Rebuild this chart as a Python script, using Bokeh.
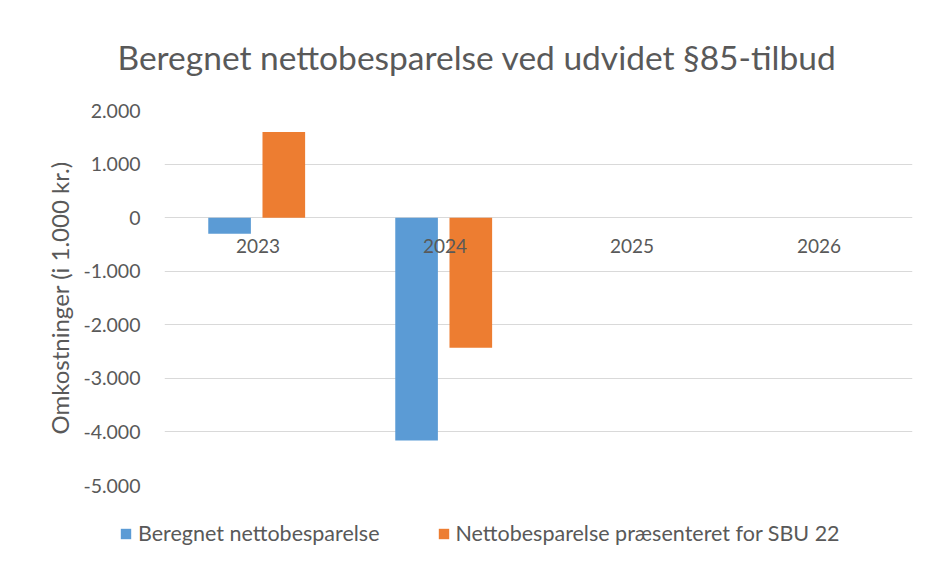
from bokeh.plotting import figure
from bokeh.models import Range1d, FactorRange, Legend, LegendItem, ColumnDataSource, FixedTicker
from bokeh.transform import dodge
from bokeh.core.properties import value
from bokeh.embed import file_html
from bokeh.resources import INLINE

# ---- data ----
years = ["2023", "2024", "2025", "2026"]
beregnet = [-300, -4160, 0, 0]
sbu22 = [1600, -2430, 0, 0]
series_names = ["Beregnet nettobesparelse", "Nettobesparelse præsenteret for SBU 22"]
y_ticks = [2000, 1000, 0, -1000, -2000, -3000, -4000, -5000]
y_tick_labels = ["2.000", "1.000", "0", "-1.000", "-2.000", "-3.000", "-4.000", "-5.000"]
title_text = "Beregnet nettobesparelse ved udvidet §85-tilbud"
y_title = "Omkostninger (i 1.000 kr.)"

FONT = "Lato"
TXT = "#595959"
BLUE = "#5B9BD5"
ORANGE = "#ED7D31"
GRID = "#D9D9D9"

src = ColumnDataSource(dict(year=years, a=beregnet, b=sbu22, zero=[0] * len(years)))
xr = FactorRange(*years)
yr = Range1d(-5000, 2000)

p = figure(x_range=xr, y_range=yr,
           width=925, height=510, output_backend="svg", toolbar_location=None,
           min_border_left=164, min_border_right=13, min_border_top=110, min_border_bottom=25)
p.outline_line_color = None
p.background_fill_color = "white"
p.border_fill_color = "white"

p.title.text = title_text
p.title.align = "left"
p.title.offset = -47
p.title.standoff = 67
p.title.text_font = FONT
p.title.text_font_size = "33.5px"
p.title.text_font_style = "normal"
p.title.text_color = TXT

r1 = p.vbar(x=dodge("year", -0.152, range=xr), top="a", width=0.228, source=src,
            fill_color=BLUE, line_color=None)
r2 = p.vbar(x=dodge("year", 0.138, range=xr), top="b", width=0.228, source=src,
            fill_color=ORANGE, line_color=None)

# category labels just below the zero line
p.text(x="year", y="zero", text="year", source=src, text_align="center", text_baseline="top",
       y_offset=21, text_font=value(FONT), text_font_size="19px", text_color=TXT)

p.xaxis.visible = False
p.xgrid.grid_line_color = None
p.ygrid.grid_line_color = GRID
p.ygrid.ticker = FixedTicker(ticks=y_ticks)

yax = p.yaxis[0]
yax.ticker = FixedTicker(ticks=y_ticks)
yax.major_label_overrides = {t: l for t, l in zip(y_ticks, y_tick_labels)}
yax.axis_line_color = None
yax.major_tick_line_color = None
yax.minor_tick_line_color = None
yax.major_tick_in = 0
yax.major_tick_out = 0
yax.major_label_standoff = 24
yax.major_label_text_font = FONT
yax.major_label_text_font_size = "19.5px"
yax.major_label_text_color = TXT
yax.axis_label = y_title
yax.axis_label_text_font = FONT
yax.axis_label_text_font_size = "24px"
yax.axis_label_text_font_style = "normal"
yax.axis_label_text_color = TXT
yax.axis_label_standoff = 6

# legend strip below the chart (separate root, shares ranges and data)
pl = figure(x_range=xr, y_range=yr, width=925, height=46, output_backend="svg",
            toolbar_location=None, x_axis_location=None, y_axis_location=None,
            min_border=0, min_border_left=0, min_border_right=0,
            min_border_top=0, min_border_bottom=0)
pl.outline_line_color = None
pl.grid.grid_line_color = None
l1 = pl.vbar(x=dodge("year", -0.152, range=xr), top="a", width=0.228, source=src,
             fill_color=BLUE, line_color=None, visible=False)
l2 = pl.vbar(x=dodge("year", 0.138, range=xr), top="b", width=0.228, source=src,
             fill_color=ORANGE, line_color=None, visible=False)
legend = Legend(items=[LegendItem(label=series_names[0], renderers=[l1]),
                       LegendItem(label=series_names[1], renderers=[l2])],
                location=(119, 10), orientation="horizontal", margin=0, padding=0,
                spacing=57, glyph_width=13, glyph_height=13, label_standoff=6,
                label_height=20,
                label_text_font=FONT, label_text_font_size="21.5px", label_text_color=TXT,
                border_line_color=None, background_fill_alpha=0)
pl.add_layout(legend, "center")

open("out.html", "w").write(file_html([p, pl], INLINE))
